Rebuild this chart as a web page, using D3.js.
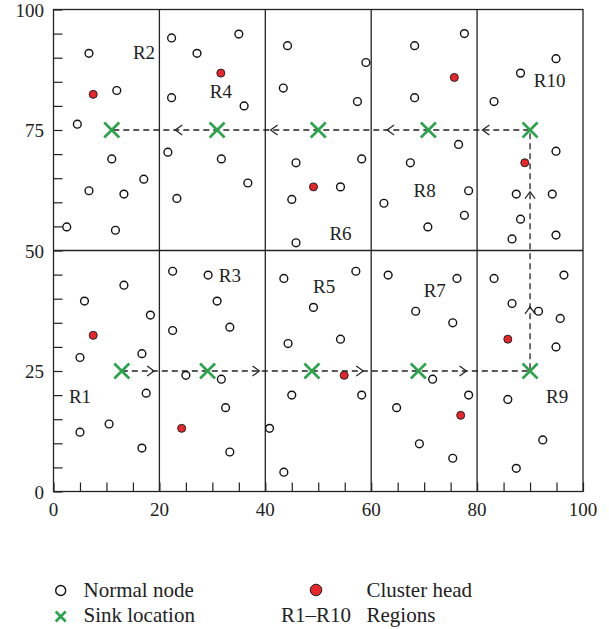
<!DOCTYPE html>
<html lang="en">
<head>
    <meta charset="UTF-8">
    <title>Sink route and cluster heads</title>
    <script src="https://d3js.org/d3.v7.min.js"></script>
    <style>
        body { margin: 0; background: #fff; }
        text {
            font-family: "Liberation Serif", "DejaVu Serif", serif;
            fill: #222;
        }
        .frame, .grid {
            fill: none;
            stroke: #222;
            stroke-width: 1.3px;
        }
        .route {
            fill: none;
            stroke: #222;
            stroke-width: 1.3px;
            stroke-dasharray: 6 4;
        }
        .arrow {
            fill: none;
            stroke: #222;
            stroke-width: 1.2px;
        }
    </style>
</head>
<body>
    <svg width="609" height="629"></svg>
    <script>
        // normal sensor nodes, by region
        const normalNodes = [
            // R2
            [6.7, 90.9], [11.95, 83.2], [4.5, 76.2], [11.0, 69.0], [17.05, 64.8], [6.7, 62.4], [13.3, 61.7], [2.5, 54.9], [11.7, 54.2],
            // R4
            [22.3, 94.1], [27.1, 90.9], [35.0, 94.9], [22.3, 81.7], [36.0, 80.0], [21.6, 70.4], [31.7, 69.0], [36.7, 64.0], [23.3, 60.8],
            // R6
            [44.2, 92.5], [43.4, 83.7], [45.8, 68.2], [45.0, 60.6], [45.8, 51.6], [59.0, 89.0], [57.4, 80.9], [58.2, 69.0], [54.2, 63.2],
            // R8
            [77.6, 95.0], [68.2, 92.5], [68.2, 81.7], [76.5, 72.0], [67.4, 68.2], [78.4, 62.4], [62.4, 59.8], [77.6, 57.3], [70.7, 54.9],
            // R10
            [94.9, 89.8], [88.2, 86.8], [83.2, 80.9], [94.9, 70.6], [87.4, 61.7], [94.2, 61.7], [88.2, 56.5], [86.6, 52.4], [94.9, 53.2],
            // R1
            [13.3, 42.8], [5.85, 39.5], [18.3, 36.6], [5.0, 27.8], [16.7, 28.6], [17.5, 20.4], [10.5, 14.0], [5.0, 12.3], [16.7, 9.0],
            // R3
            [22.5, 45.7], [29.2, 44.9], [30.9, 39.5], [33.3, 34.1], [22.5, 33.4], [25.0, 24.1], [31.7, 23.3], [32.5, 17.4], [33.3, 8.2],
            // R5
            [43.5, 44.2], [44.3, 30.7], [45.0, 20.0], [40.8, 13.1], [43.5, 4.0], [57.1, 45.7], [49.1, 38.2], [54.2, 31.6], [58.2, 20.0],
            // R7
            [63.2, 44.9], [76.2, 44.2], [68.4, 37.4], [75.4, 35.0], [71.6, 23.3], [78.4, 20.0], [64.8, 17.4], [69.1, 9.9], [75.4, 6.9],
            // R9
            [83.2, 44.2], [96.4, 44.9], [86.6, 39.0], [91.6, 37.4], [95.7, 35.9], [94.9, 30.0], [85.8, 19.1], [92.4, 10.7], [87.4, 4.8]
        ];

        const clusterHeads = [
            [7.5, 82.4], [31.6, 86.8], [49.1, 63.2], [75.7, 85.9], [89.0, 68.2],
            [7.5, 32.4], [24.2, 13.1], [54.9, 24.1], [76.9, 15.8], [85.8, 31.6]
        ];

        // sink stops, in the order the sink travels
        const sinkStops = [
            [12.9, 25], [29.1, 25], [48.8, 25], [68.9, 25], [90, 25],
            [90, 75], [70.8, 75], [50, 75], [30.9, 75], [11, 75]
        ];

        // direction marks along the route (tip position + direction)
        const arrowMarks = [
            [19, 25, "right"], [38.9, 25, "right"], [58.5, 25, "right"], [78, 25, "right"],
            [90, 38.3, "up"], [90, 62.2, "up"],
            [81, 75, "left"], [63, 75, "left"], [41, 75, "left"], [23, 75, "left"]
        ];

        const regionLabels = [
            ["R1", 5.0, 19.7], ["R2", 17.1, 91.0], ["R3", 33.3, 44.9], ["R4", 31.6, 82.9],
            ["R5", 51.1, 42.5], ["R6", 54.2, 53.6], ["R7", 72.0, 41.7], ["R8", 70.1, 62.4],
            ["R9", 95.1, 19.7], ["R10", 93.7, 85.2]
        ];

        const xTickLabels = [0, 20, 40, 60, 80, 100];
        const yTickLabels = [0, 25, 50, 75, 100];
        const gridX = [20, 40, 60, 80];
        const gridY = [50];

        const green = "#2ca44c";
        const red = "#e8262a";

        const svg = d3.select("svg");

        const x = d3.scaleLinear().domain([0, 100]).range([53.5, 583]);
        const y = d3.scaleLinear().domain([0, 100]).range([491.5, 9.5]);

        // inner ticks every 5, no labels
        svg.append("g")
            .attr("transform", `translate(0,${y(0)})`)
            .call(d3.axisTop(x).tickValues(d3.range(0, 101, 5)).tickSize(9).tickFormat(""))
            .call(g => g.select(".domain").remove())
            .call(g => g.selectAll("line").attr("stroke", "#222").attr("stroke-width", 1.2));

        svg.append("g")
            .attr("transform", `translate(${x(0)},0)`)
            .call(d3.axisRight(y).tickValues(d3.range(0, 101, 5)).tickSize(9).tickFormat(""))
            .call(g => g.select(".domain").remove())
            .call(g => g.selectAll("line").attr("stroke", "#222").attr("stroke-width", 1.2));

        // tick labels
        svg.append("g").selectAll("text")
            .data(xTickLabels)
            .join("text")
            .attr("x", d => x(d))
            .attr("y", 516)
            .attr("text-anchor", "middle")
            .style("font-size", "19px")
            .text(d => d);

        svg.append("g").selectAll("text")
            .data(yTickLabels)
            .join("text")
            .attr("x", 44)
            .attr("y", d => y(d) + 7)
            .attr("text-anchor", "end")
            .style("font-size", "19px")
            .text(d => d);

        // region grid
        svg.append("g").selectAll("line")
            .data(gridX)
            .join("line")
            .attr("class", "grid")
            .attr("x1", d => x(d)).attr("x2", d => x(d))
            .attr("y1", y(0)).attr("y2", y(100));

        svg.append("g").selectAll("line")
            .data(gridY)
            .join("line")
            .attr("class", "grid")
            .attr("x1", x(0)).attr("x2", x(100))
            .attr("y1", d => y(d)).attr("y2", d => y(d));

        svg.append("rect")
            .attr("class", "frame")
            .attr("x", x(0)).attr("y", y(100))
            .attr("width", x(100) - x(0))
            .attr("height", y(0) - y(100));

        // sink route
        svg.append("path")
            .attr("class", "route")
            .attr("d", d3.line().x(d => x(d[0])).y(d => y(d[1]))(sinkStops));

        const chevron = {
            right: "M-7,-5L0,0L-7,5",
            left: "M7,-5L0,0L7,5",
            up: "M-5,7L0,0L5,7"
        };
        svg.append("g").selectAll("path")
            .data(arrowMarks)
            .join("path")
            .attr("class", "arrow")
            .attr("transform", d => `translate(${x(d[0])},${y(d[1])})`)
            .attr("d", d => chevron[d[2]]);

        // nodes
        svg.append("g").selectAll("circle")
            .data(normalNodes)
            .join("circle")
            .attr("cx", d => x(d[0]))
            .attr("cy", d => y(d[1]))
            .attr("r", 3.9)
            .attr("fill", "#fff")
            .attr("stroke", "#111")
            .attr("stroke-width", 1.4);

        svg.append("g").selectAll("circle")
            .data(clusterHeads)
            .join("circle")
            .attr("cx", d => x(d[0]))
            .attr("cy", d => y(d[1]))
            .attr("r", 4)
            .attr("fill", red)
            .attr("stroke", "#222")
            .attr("stroke-width", 1);

        // sink marks
        const cross = s => `M${-s},${-s}L${s},${s}M${-s},${s}L${s},${-s}`;
        svg.append("g").selectAll("path")
            .data(sinkStops)
            .join("path")
            .attr("transform", d => `translate(${x(d[0])},${y(d[1])})`)
            .attr("d", cross(7.5))
            .attr("stroke", green)
            .attr("stroke-width", 2.6)
            .attr("fill", "none");

        // region labels
        svg.append("g").selectAll("text")
            .data(regionLabels)
            .join("text")
            .attr("x", d => x(d[1]))
            .attr("y", d => y(d[2]) + 6.5)
            .attr("text-anchor", "middle")
            .style("font-size", "19px")
            .text(d => d[0]);

        // legend
        const legend = svg.append("g");
        legend.append("circle")
            .attr("cx", 60.7).attr("cy", 590.5).attr("r", 5)
            .attr("fill", "#fff").attr("stroke", "#111").attr("stroke-width", 1.4);
        legend.append("path")
            .attr("transform", "translate(60.7,616.5)")
            .attr("d", cross(5))
            .attr("stroke", green).attr("stroke-width", 2.6).attr("fill", "none");
        legend.append("circle")
            .attr("cx", 316).attr("cy", 590).attr("r", 5.8)
            .attr("fill", red).attr("stroke", "#222").attr("stroke-width", 1);

        const legendText = [
            ["Normal node", 83.5, 597, "start"],
            ["Sink location", 83.5, 622, "start"],
            ["Cluster head", 366.5, 597, "start"],
            ["R1\u2013R10", 351, 622, "end"],
            ["Regions", 366.5, 622, "start"]
        ];
        legend.selectAll("text")
            .data(legendText)
            .join("text")
            .attr("x", d => d[1])
            .attr("y", d => d[2])
            .attr("text-anchor", d => d[3])
            .style("font-size", "21px")
            .text(d => d[0]);
    </script>
</body>
</html>
